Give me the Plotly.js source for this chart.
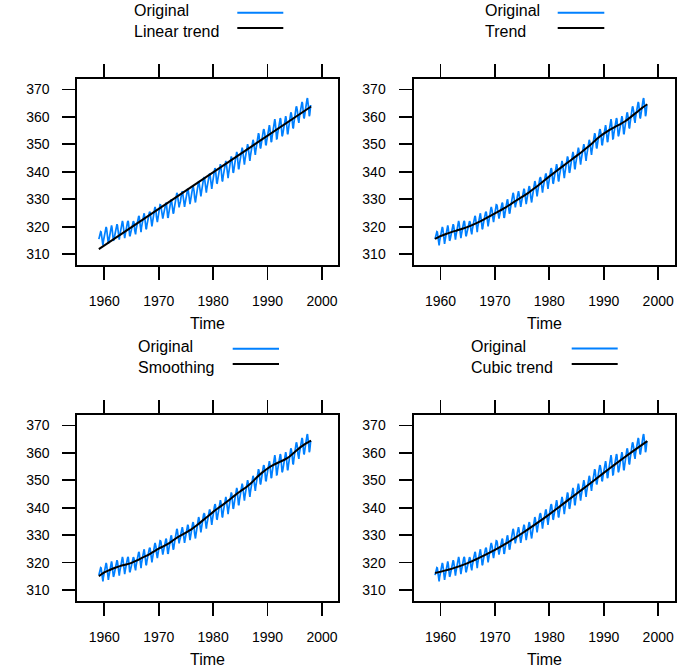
<!DOCTYPE html>
<html>
<head>
<meta charset="utf-8">
<script src="https://cdn.plot.ly/plotly-3.0.1.min.js"></script>
<style>
  html, body { margin: 0; padding: 0; background: #ffffff; }
  #chart { width: 691px; height: 671px; }
</style>
</head>
<body>
<div id="chart"></div>
<script>
// ---- Data: monthly CO2 (ppm), Jan 1959 .. Dec 1997 ----
const startYear = 1959;
const co2 = [
315.42,316.31,316.50,317.56,318.13,318.00,316.39,314.65,313.68,313.18,314.66,315.43,
316.27,316.81,317.42,318.87,319.87,319.43,318.01,315.74,314.00,313.68,314.84,316.03,
316.73,317.54,318.38,319.31,320.42,319.61,318.42,316.63,314.83,315.16,315.94,316.85,
317.78,318.40,319.53,320.42,320.85,320.45,319.45,317.25,316.11,315.27,316.53,317.53,
318.58,318.92,319.70,321.22,322.08,321.31,319.58,317.61,316.05,315.83,316.91,318.20,
319.41,320.07,320.74,321.40,322.06,321.73,320.27,318.54,316.54,316.71,317.53,318.55,
319.27,320.28,320.73,321.97,322.00,321.71,321.05,318.71,317.66,317.14,318.70,319.25,
320.46,321.43,322.23,323.54,323.91,323.59,322.24,320.20,318.48,317.94,319.63,320.87,
322.17,322.34,322.88,324.25,324.83,323.93,322.38,320.76,319.10,319.24,320.56,321.80,
322.40,322.99,323.73,324.86,325.40,325.20,323.98,321.95,320.18,320.09,321.16,322.74,
323.83,324.26,325.47,326.50,327.21,326.54,325.72,323.50,322.22,321.62,322.69,323.95,
324.89,325.82,326.77,327.97,327.91,327.50,326.18,324.53,322.93,322.90,323.85,324.96,
326.01,326.51,327.01,327.62,328.76,328.40,327.20,325.27,323.20,323.40,324.63,325.85,
326.60,327.47,327.58,329.56,329.90,328.92,327.88,326.16,324.68,325.04,326.34,327.39,
328.37,329.40,330.14,331.33,332.31,331.90,330.70,329.15,327.35,327.02,327.99,328.48,
329.18,330.55,331.32,332.48,332.92,332.08,331.01,329.23,327.27,327.21,328.29,329.41,
330.23,331.25,331.87,333.14,333.80,333.43,331.73,329.90,328.40,328.17,329.32,330.59,
331.58,332.39,333.33,334.41,334.71,334.17,332.89,330.77,329.14,328.78,330.14,331.52,
332.75,333.24,334.53,335.90,336.57,336.10,334.76,332.59,331.42,330.98,332.24,333.68,
334.80,335.22,336.47,337.59,337.84,337.72,336.37,334.51,332.60,332.38,333.75,334.78,
336.05,336.59,337.79,338.71,339.30,339.12,337.56,335.92,333.75,333.70,335.12,336.56,
337.84,338.19,339.91,340.60,341.29,341.00,339.39,337.43,335.72,335.84,336.93,338.04,
339.06,340.30,341.21,342.33,342.74,342.08,340.32,338.26,336.52,336.68,338.19,339.44,
340.57,341.44,342.53,343.39,343.96,343.18,341.88,339.65,337.81,337.69,339.09,340.32,
341.20,342.35,342.93,344.77,345.58,345.14,343.81,342.21,339.69,339.82,340.98,342.82,
343.52,344.33,345.11,346.88,347.25,346.62,345.22,343.11,340.90,341.18,342.80,344.04,
344.79,345.82,347.25,348.17,348.74,348.07,346.38,344.51,342.92,342.62,344.06,345.38,
346.11,346.78,347.68,349.37,350.03,349.37,347.76,345.73,344.68,343.99,345.48,346.72,
347.84,348.29,349.23,350.80,351.66,351.07,349.33,347.92,346.27,346.18,347.64,348.78,
350.25,351.54,352.05,353.41,354.04,353.62,352.22,350.27,348.55,348.72,349.91,351.18,
352.60,352.92,353.53,355.26,355.52,354.97,353.75,351.52,349.64,349.83,351.14,352.37,
353.50,354.55,355.23,356.04,357.00,356.07,354.67,352.76,350.82,351.04,352.69,354.07,
354.59,355.63,357.03,358.48,359.22,358.12,356.06,353.92,352.05,352.11,353.64,354.89,
355.88,356.63,357.72,359.07,359.58,359.17,356.94,354.92,352.94,353.23,354.09,355.33,
356.63,357.10,358.32,359.41,360.23,359.55,357.53,355.48,353.67,353.95,355.30,356.78,
358.34,358.89,359.95,361.25,361.67,360.94,359.55,357.49,355.84,356.00,357.59,359.05,
359.98,361.03,361.66,363.48,363.82,363.30,361.94,359.50,358.11,357.80,359.61,360.74,
362.09,363.29,364.06,364.76,365.45,365.01,363.70,361.54,359.51,359.65,360.80,362.38,
363.23,364.06,364.61,366.40,366.84,365.68,364.52,362.57,360.24,360.83,362.49,364.34
];

// Linear trend (at the two ends)
const linearX = [1959, 1998];
const linearY = [311.8, 363.8];

// Trend (at year starts)
const trendX = [1959,1960,1961,1962,1963,1964,1965,1966,1967,1968,1969,1970,1971,1972,1973,
  1974,1975,1976,1977,1978,1979,1980,1981,1982,1983,1984,1985,1986,1987,1988,1989,1990,
  1991,1992,1993,1994,1995,1996,1997,1998];
const trendY = [315.5,316.5,317.3,318.0,318.6,319.2,319.9,320.7,321.6,322.6,323.7,324.8,325.9,
  327.0,328.3,329.6,330.8,332.1,333.6,335.1,336.7,338.3,339.8,341.3,342.8,344.3,345.8,
  347.3,348.9,350.6,352.4,353.9,355.2,356.3,357.3,358.5,360.0,361.6,363.2,364.6];

// Smoothing (at year starts)
const smoothX = [1959,1960,1961,1962,1963,1964,1965,1966,1967,1968,1969,1970,1971,1972,1973,
  1974,1975,1976,1977,1978,1979,1980,1981,1982,1983,1984,1985,1986,1987,1988,1989,1990,
  1991,1992,1993,1994,1995,1996,1997,1998];
const smoothY = [315.0,316.4,317.3,318.1,318.8,319.3,319.9,320.8,321.8,322.7,323.9,325.1,326.1,
  327.2,328.6,329.8,330.9,332.1,333.6,335.2,336.8,338.5,340.0,341.4,342.9,344.5,346.0,
  347.4,349.0,351.0,352.8,354.3,355.5,356.5,357.4,358.6,360.3,362.0,363.4,364.5];

// Cubic trend
const cubicX = [1959,1962,1965,1967,1970,1972,1975,1977,1980,1982,1985,1987,1990,1992,1995,1998];
const cubicY = [316.2,317.7,319.8,321.6,324.6,326.9,330.7,333.4,337.6,340.6,345.1,348.1,352.7,355.7,360.1,364.3];

const legendLabels = ["Original", "Linear trend", "Trend", "Smoothing", "Cubic trend"];
const axisTitle = "Time";
const xTicks = [1960, 1970, 1980, 1990, 2000];
const yTicks = [310, 320, 330, 340, 350, 360, 370];

// ---- Build ----
const W = 691, H = 671;
const co2X = co2.map((v, i) => startYear + i / 12);
const BLUE = "#0080ff", BLACK = "#000000";
const FONT = "Liberation Sans, Arial, Helvetica, sans-serif";

// panel boxes in pixels: [left, right, top, bottom]
const panels = [
  {box: [77.3, 338.3, 79.3, 265.0], fit: [linearX, linearY], label: legendLabels[1],
   leg: {tx: 132.7, lx0: 237.3, lx1: 283.3, y1: 12.7, y2: 28.0}, titleY: 323},
  {box: [413.5, 674.5, 79.3, 265.0], fit: [trendX, trendY], label: legendLabels[2],
   leg: {tx: 484.3, lx0: 557.7, lx1: 604.3, y1: 12.7, y2: 28.0}, titleY: 323},
  {box: [77.3, 338.3, 415.3, 601.0], fit: [smoothX, smoothY], label: legendLabels[3],
   leg: {tx: 137.3, lx0: 232.7, lx1: 279.0, y1: 348.7, y2: 364.0}, titleY: 659},
  {box: [413.5, 674.5, 415.3, 601.0], fit: [cubicX, cubicY], label: legendLabels[4],
   leg: {tx: 470.3, lx0: 571.7, lx1: 617.7, y1: 348.5, y2: 364.0}, titleY: 659}
];

const px = x => x / W;
const py = y => 1 - y / H;

const traces = [];
const layout = {
  width: W, height: H,
  margin: {l: 0, r: 0, t: 0, b: 0},
  paper_bgcolor: "#ffffff", plot_bgcolor: "#ffffff",
  showlegend: false,
  font: {family: FONT, color: "#000000", size: 14},
  annotations: [], shapes: []
};

panels.forEach((p, k) => {
  const n = k === 0 ? "" : String(k + 1);
  const xa = "x" + n, ya = "y" + n;
  traces.push({x: co2X, y: co2, xaxis: xa, yaxis: ya, type: "scatter", mode: "lines",
    line: {color: BLUE, width: 1.7}, hoverinfo: "skip"});
  traces.push({x: p.fit[0], y: p.fit[1], xaxis: xa, yaxis: ya, type: "scatter", mode: "lines",
    line: {color: BLACK, width: 2, shape: k === 0 ? "linear" : "spline", smoothing: 0.6},
    hoverinfo: "skip"});
  layout["xaxis" + n] = {
    domain: [px(p.box[0]), px(p.box[1])], anchor: ya,
    range: [1955.04, 2003.0], tickvals: xTicks, ticktext: xTicks.map(String),
    showline: true, linecolor: BLACK, linewidth: 2, mirror: "ticks",
    ticks: "outside", ticklen: 13, tickwidth: 1.8, tickcolor: BLACK,
    ticklabelstandoff: 9,
    showgrid: false, zeroline: false, tickfont: {size: 14, family: FONT, color: BLACK}
  };
  layout["yaxis" + n] = {
    domain: [py(p.box[3]), py(p.box[2])], anchor: xa,
    range: [306.0, 373.7], tickvals: yTicks, ticktext: yTicks.map(String),
    showline: true, linecolor: BLACK, linewidth: 2, mirror: true,
    ticks: "outside", ticklen: 13, tickwidth: 1.8, tickcolor: BLACK,
    ticklabelstandoff: 10,
    showgrid: false, zeroline: false, tickfont: {size: 14, family: FONT, color: BLACK}
  };
  // axis title
  layout.annotations.push({xref: "paper", yref: "paper",
    x: px((p.box[0] + p.box[1]) / 2), y: py(p.titleY), xanchor: "center", yanchor: "middle",
    text: axisTitle, showarrow: false, font: {size: 16, family: FONT, color: BLACK}});
  // legend key: both labels in one two-line text block, key lines to the right
  const L = p.leg;
  layout.annotations.push({xref: "paper", yref: "paper",
    x: px(L.tx), y: py((L.y1 + L.y2) / 2 + 0.8), xanchor: "left", yanchor: "middle",
    align: "left", text: legendLabels[0] + "<br>" + p.label, showarrow: false, borderpad: 0,
    font: {size: 16, family: FONT, color: BLACK}});
  [[L.y1, BLUE], [L.y2, BLACK]].forEach(([yy, col]) => {
    layout.shapes.push({type: "line", xref: "paper", yref: "paper",
      x0: px(L.lx0), x1: px(L.lx1), y0: py(yy), y1: py(yy),
      line: {color: col, width: 2}});
  });
});

Plotly.newPlot("chart", traces, layout, {staticPlot: true, displayModeBar: false});
</script>
</body>
</html>
